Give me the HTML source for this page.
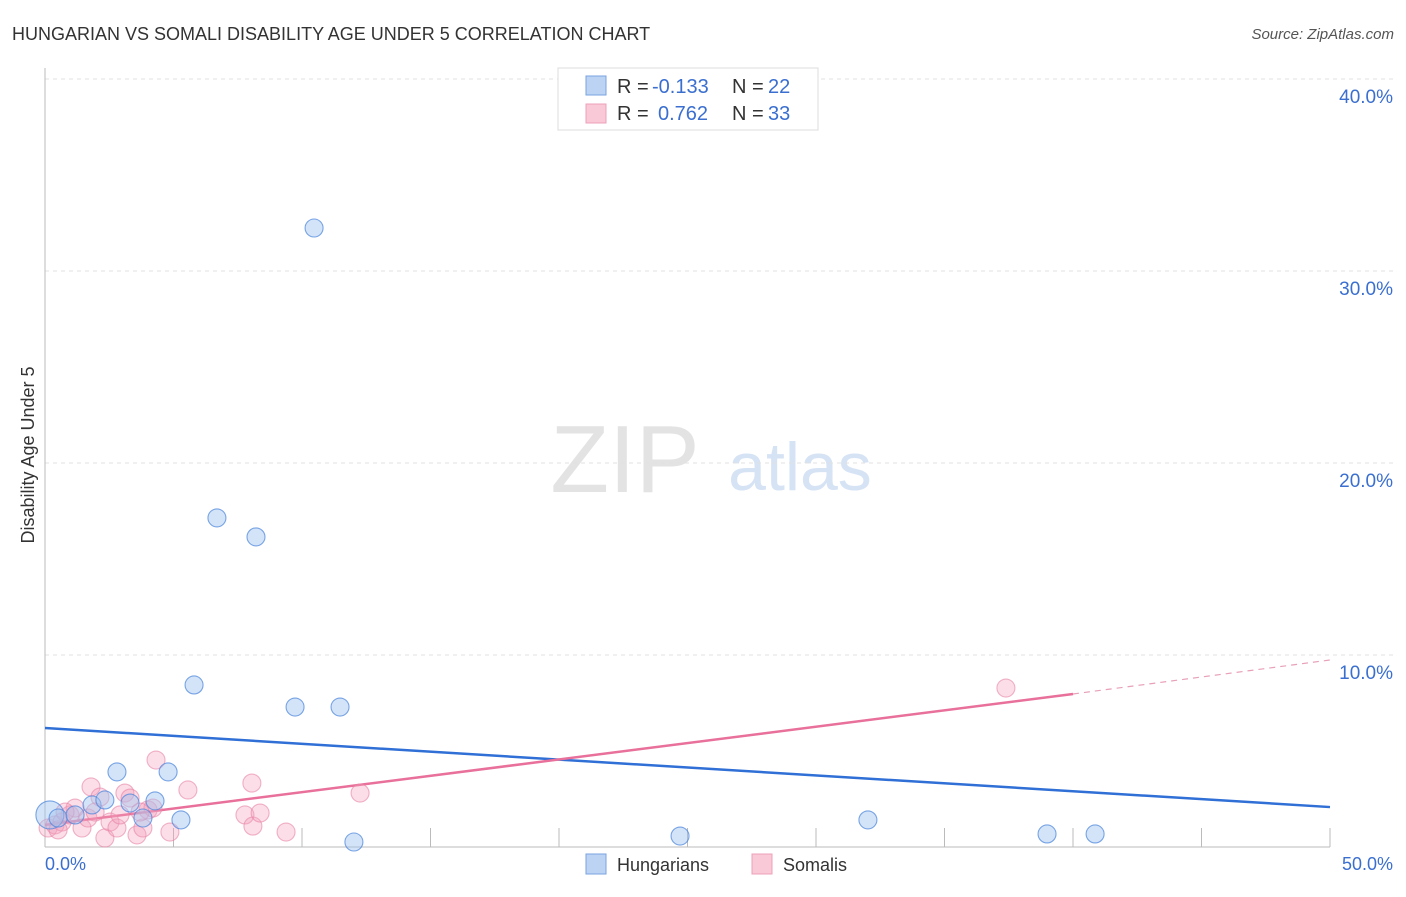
<!DOCTYPE html>
<html><head><meta charset="utf-8"><style>
body{margin:0;background:#fff;font-family:"Liberation Sans",sans-serif;}
svg text{font-family:"Liberation Sans",sans-serif;}
</style></head><body>
<svg width="1406" height="892" viewBox="0 0 1406 892">
<text x="12" y="40" font-size="18" fill="#333">HUNGARIAN VS SOMALI DISABILITY AGE UNDER 5 CORRELATION CHART</text>
<text x="1394" y="39" font-size="15" fill="#555" font-style="italic" text-anchor="end">Source: ZipAtlas.com</text>
<text x="625" y="492" font-size="96" fill="#e3e3e3" font-family="Liberation Serif" text-anchor="middle">ZIP</text>
<text x="800" y="490" font-size="68" fill="#d6e3f5" text-anchor="middle">atlas</text>
<g id="grid"></g>
<line x1="45" y1="68" x2="45" y2="847" stroke="#bbb"/>
<line x1="45" y1="847" x2="1330" y2="847" stroke="#bbb"/>
<text transform="translate(34,455) rotate(-90)" font-size="18" fill="#333" text-anchor="middle">Disability Age Under 5</text>
<text x="45" y="870" font-size="18" fill="#3a6fd0">0.0%</text>
<text x="1393" y="870" font-size="18" fill="#3a6fd0" text-anchor="end">50.0%</text>
<g id="lines"></g>
<g id="pts"></g>
<g>
<rect x="558" y="68" width="260" height="62" fill="#fff" stroke="#ddd"/>
<rect x="586" y="76" width="20" height="19" fill="#bcd3f3" stroke="#7aa3e0"/>
<rect x="586" y="104" width="20" height="19" fill="#f9c9d8" stroke="#eea0b8"/>
<text x="617" y="93" font-size="20" fill="#333">R =</text>
<text x="652" y="93" font-size="20" fill="#3a6fd0">-0.133</text>
<text x="732" y="93" font-size="20" fill="#333">N =</text>
<text x="768" y="93" font-size="20" fill="#3a6fd0">22</text>
<text x="617" y="120" font-size="20" fill="#333">R =</text>
<text x="658" y="120" font-size="20" fill="#3a6fd0">0.762</text>
<text x="732" y="120" font-size="20" fill="#333">N =</text>
<text x="768" y="120" font-size="20" fill="#3a6fd0">33</text>
</g>
<g>
<rect x="586" y="854" width="20" height="20" fill="#bcd3f3" stroke="#7aa3e0"/>
<text x="617" y="871" font-size="18" fill="#333">Hungarians</text>
<rect x="752" y="854" width="20" height="20" fill="#f9c9d8" stroke="#eea0b8"/>
<text x="783" y="871" font-size="18" fill="#333">Somalis</text>
</g>
</svg>
<script>
const yTicks=[10,20,30,40];
const yTickLabels=["10.0%","20.0%","30.0%","40.0%"];
const xTicks=[5,10,15,20,25,30,35,40,45,50];
const hunX=[0.19,0.51,1.17,1.83,2.33,2.80,3.31,3.81,4.28,4.79,5.29,5.80,6.69,8.21,9.73,10.47,11.48,12.02,24.71,32.02,38.99,40.86];
const hunY=[1.67,1.51,1.67,2.19,2.45,3.91,2.29,1.51,2.40,3.91,1.41,8.44,17.14,16.15,7.29,32.24,7.29,0.26,0.57,1.41,0.68,0.68];
const somX=[0.12,0.39,0.66,0.97,1.17,1.44,1.67,1.79,2.14,2.33,2.53,2.80,2.92,3.11,3.31,3.58,3.81,4.01,4.20,4.32,4.86,5.56,7.78,8.05,8.09,8.37,9.38,12.26,37.39,0.78,1.95,3.70,0.51];
const somY=[0.99,1.15,1.30,1.67,2.03,0.99,1.51,3.13,2.60,0.47,1.30,0.99,1.67,2.81,2.55,0.63,0.99,1.93,2.03,4.53,0.78,2.97,1.67,3.33,1.09,1.77,0.78,2.81,8.28,1.82,1.82,1.82,0.89];
const hunTrend=[[0,6.2],[50,2.08]];
const somTrend=[[0,1.15],[40,7.97],[50,9.74]];
const sx=v=>45+v*25.7, sy=v=>847-v*19.2;
const NS="http://www.w3.org/2000/svg";
function mk(t,a,p){const e=document.createElementNS(NS,t);for(const k in a)e.setAttribute(k,a[k]);p.appendChild(e);return e;}
const g=document.getElementById('grid');
yTicks.forEach((t,i)=>{
 const l=mk('line',{x1:45,x2:1393,y1:sy(t),y2:sy(t),stroke:'#e2e2e2','stroke-dasharray':'4,4'},g);
 
 
 const tx=mk('text',{x:1393,y:sy(t)+24,'font-size':19,fill:'#3a6fd0','text-anchor':'end'},g);
 tx.textContent=yTickLabels[i];
 
 
});
xTicks.forEach(t=>{
 const l=mk('line',{x1:sx(t),x2:sx(t),y1:828,y2:847,stroke:'#bbb'},g);
 
 
});
const pg=document.getElementById('pts');
somX.forEach((x,i)=>{
 const c=mk('circle',{cx:sx(x),cy:sy(somY[i]),r:9,fill:'rgba(244,160,190,0.35)',stroke:'rgba(232,130,165,0.6)','stroke-width':1.1},pg);
 
 
});
hunX.forEach((x,i)=>{
 const c=mk('circle',{cx:sx(x),cy:sy(hunY[i]),r:i==0?14:9,fill:'rgba(160,195,240,0.45)',stroke:'rgba(70,130,220,0.7)','stroke-width':1.1},pg);
 
 
});
const lg=document.getElementById('lines');
const hl=mk('line',{x1:sx(hunTrend[0][0]),y1:sy(hunTrend[0][1]),x2:sx(hunTrend[1][0]),y2:sy(hunTrend[1][1]),stroke:'#2f6fd6','stroke-width':2.5},lg);


const pl=mk('line',{x1:sx(somTrend[0][0]),y1:sy(somTrend[0][1]),x2:sx(somTrend[1][0]),y2:sy(somTrend[1][1]),stroke:'#e8709a','stroke-width':2.5},lg);


const pd=mk('line',{x1:sx(somTrend[1][0]),y1:sy(somTrend[1][1]),x2:sx(somTrend[2][0]),y2:sy(somTrend[2][1]),stroke:'#e8a0b8','stroke-width':1.2,'stroke-dasharray':'6,5'},lg);


</script>
</body></html>
